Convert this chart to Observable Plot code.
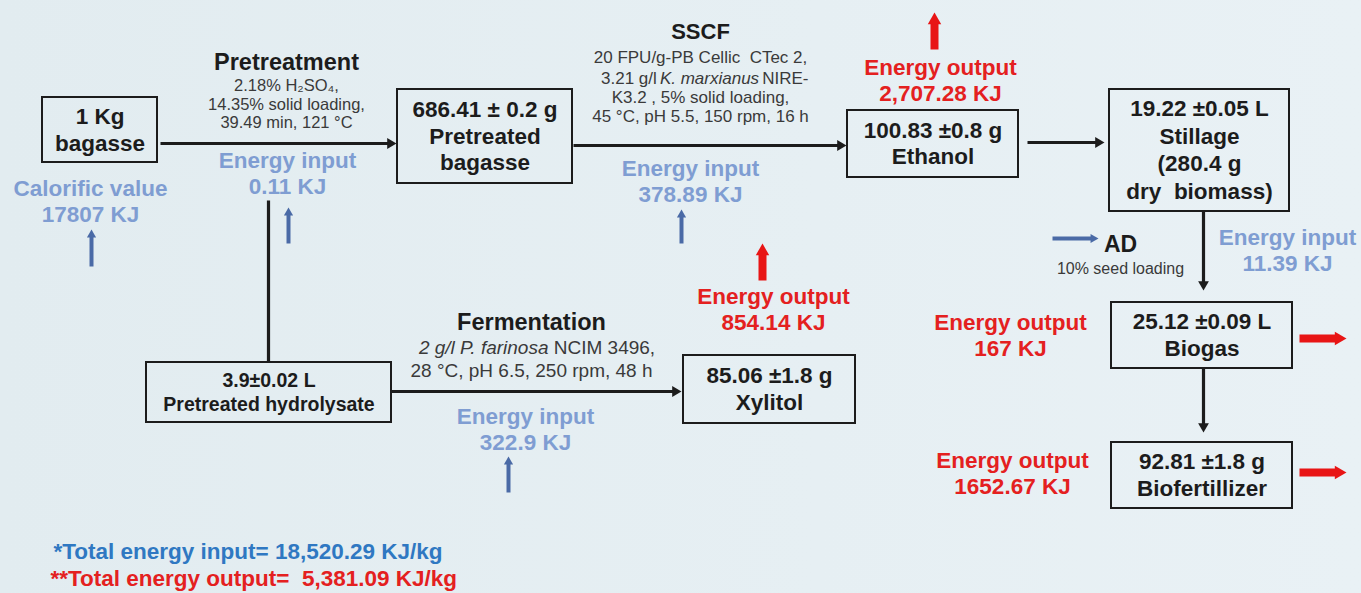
<!DOCTYPE html>
<html>
<head>
<meta charset="utf-8">
<script src="https://cdn.jsdelivr.net/npm/d3@7"></script>
<script src="https://cdn.jsdelivr.net/npm/@observablehq/plot@0.6"></script>
<style>
  html, body { margin: 0; padding: 0; background: #e4eef2; }
  #chart svg { display: block; }
</style>
</head>
<body>
<div id="chart"></div>
<script>
// ---------- DATA ----------
const boxIds = ["bagasse", "pretreated", "ethanol", "stillage", "hydrolysate", "xylitol", "biogas", "biofertilizer"];
const boxLines = [
  ["1 Kg", "bagasse"],
  ["686.41 ± 0.2 g", "Pretreated", "bagasse"],
  ["100.83 ±0.8 g", "Ethanol"],
  ["19.22 ±0.05 L", "Stillage", "(280.4 g", "dry  biomass)"],
  ["3.9±0.02 L", "Pretreated hydrolysate"],
  ["85.06 ±1.8 g", "Xylitol"],
  ["25.12 ±0.09 L", "Biogas"],
  ["92.81 ±1.8 g", "Biofertillizer"]
];
const processNames = ["Pretreatment", "SSCF", "Fermentation", "AD"];
const processConditions = [
  ["2.18% H₂SO₄,", "14.35% solid loading,", "39.49 min, 121 °C"],
  ["20 FPU/g-PB Cellic  CTec 2,", ["3.21 g/l ", "K. marxianus", " NIRE-"], "K3.2 , 5% solid loading,", "45 °C, pH 5.5, 150 rpm, 16 h"],
  [["2 g/l P. farinosa", " NCIM 3496,"], "28 °C, pH 6.5, 250 rpm, 48 h"],
  ["10% seed loading"]
];
const inputLabels = ["Calorific value", "Energy input", "Energy input", "Energy input", "Energy input"];
const inputValues = ["17807 KJ", "0.11 KJ", "378.89 KJ", "322.9 KJ", "11.39 KJ"];
const outputLabels = ["Energy output", "Energy output", "Energy output", "Energy output"];
const outputValues = ["2,707.28 KJ", "854.14 KJ", "167 KJ", "1652.67 KJ"];
const totalMarks = ["*", "**"];
const totalLabels = ["Total energy input= ", "Total energy output=  "];
const totalValues = ["18,520.29 KJ/kg", "5,381.09 KJ/kg"];

// ---------- LAYOUT ----------
const W = 1361, H = 593;
const boxLayout = {
  bagasse:       {x1: 42,   x2: 157,  y1: 97,  y2: 162, fs: 22.5, lh: 27},
  pretreated:    {x1: 397,  x2: 572,  y1: 89,  y2: 183, fs: 22.5, lh: 26.5},
  ethanol:       {x1: 847,  x2: 1018, y1: 110, y2: 177, fs: 22.5, lh: 26},
  stillage:      {x1: 1109, x2: 1289, y1: 89,  y2: 211, fs: 22.5, lh: 27.5},
  hydrolysate:   {x1: 146,  x2: 391,  y1: 362, y2: 422, fs: 19.5, lh: 24},
  xylitol:       {x1: 683,  x2: 855,  y1: 355, y2: 423, fs: 22.5, lh: 27},
  biogas:        {x1: 1111, x2: 1292, y1: 302, y2: 368, fs: 22.5, lh: 27},
  biofertilizer: {x1: 1111, x2: 1292, y1: 442, y2: 508, fs: 22.5, lh: 27}
};
const processLayout = [
  {x: 286,  y: 62,  fs: 23.5, cfs: 16.5, cy: [85, 104, 122], splits: [null, null, null]},
  {x: 700,  y: 31,  fs: 22,   cfs: 17,   cy: [57, 78, 97, 116], splits: [null, 709, null, null]},
  {x: 531,  y: 322, fs: 23.5, cfs: 19,   cy: [347, 370], splits: [548, null]},
  {x: 1120, y: 244, fs: 23,   cfs: 16,   cy: [268], splits: [null]}
];
const inputLayout = [
  {x: 90,   y: 188}, {x: 287, y: 160}, {x: 690, y: 168}, {x: 525, y: 416}, {x: 1287, y: 237}
];
const outputLayout = [
  {x: 940, y: 67}, {x: 773, y: 296}, {x: 1010, y: 322}, {x: 1012, y: 460}
];
const totalLayout = [{x: 53, y: 551}, {x: 50, y: 578}];

const flowArrows = [
  {x1: 160, y1: 143, x2: 396, y2: 143, head: true},
  {x1: 573, y1: 145, x2: 846, y2: 145, head: true},
  {x1: 1027, y1: 142, x2: 1104, y2: 142, head: true},
  {x1: 268, y1: 200, x2: 268, y2: 362, head: false},
  {x1: 391, y1: 391, x2: 681, y2: 391, head: true},
  {x1: 1203, y1: 211, x2: 1203, y2: 290, head: true},
  {x1: 1203, y1: 368, x2: 1203, y2: 432, head: true}
];
const blueArrows = [
  {x1: 91, y1: 266, x2: 91, y2: 229},
  {x1: 288, y1: 243, x2: 288, y2: 207},
  {x1: 681, y1: 243, x2: 681, y2: 209},
  {x1: 508, y1: 492, x2: 508, y2: 456},
  {x1: 1052, y1: 238, x2: 1098, y2: 238}
];
const redArrows = [
  {x1: 934, y1: 49, x2: 934, y2: 12},
  {x1: 762, y1: 280, x2: 762, y2: 243},
  {x1: 1299, y1: 338, x2: 1346, y2: 338},
  {x1: 1299, y1: 472, x2: 1346, y2: 472}
];

const INK = "#1c1c1c", BLUE = "#7f9dd2", RED = "#e42020", GREY = "#3a3a3a";
const FOOT_BLUE = "#2f78c2";

// ---------- BUILD TABLES ----------
const boxes = boxIds.map((id) => ({id, ...boxLayout[id]}));
const boxText = boxIds.flatMap((id, i) => {
  const b = boxLayout[id];
  const n = boxLines[i].length;
  const cy = (b.y1 + b.y2) / 2;
  return boxLines[i].map((t, j) => ({x: (b.x1 + b.x2) / 2, y: cy + (j - (n - 1) / 2) * b.lh, text: t, fs: b.fs}));
});

const procTitles = processNames.map((t, i) => ({x: processLayout[i].x, y: processLayout[i].y, text: t, fs: processLayout[i].fs}));
const condPlain = [], condItalicMid = [], condItalicEnd = [], condLeft = [], condRight = [];
processConditions.forEach((lines, i) => {
  const L = processLayout[i];
  lines.forEach((line, j) => {
    const y = L.cy[j];
    if (typeof line === "string") condPlain.push({x: L.x, y, text: line, fs: L.cfs});
    else if (line.length === 3) {
      const s = L.splits[j], half = 48;
      condItalicMid.push({x: s, y, text: line[1], fs: L.cfs});
      condLeft.push({x: s - half, y, text: line[0], fs: L.cfs});
      condRight.push({x: s + half, y, text: line[2], fs: L.cfs});
    } else {
      const s = L.splits[j];
      condItalicEnd.push({x: s, y, text: line[0], fs: L.cfs});
      condRight.push({x: s, y, text: line[1], fs: L.cfs});
    }
  });
});

const inputText = inputLabels.flatMap((t, i) => [
  {x: inputLayout[i].x, y: inputLayout[i].y, text: t},
  {x: inputLayout[i].x, y: inputLayout[i].y + 26, text: inputValues[i]}
]);
const outputText = outputLabels.flatMap((t, i) => [
  {x: outputLayout[i].x, y: outputLayout[i].y, text: t},
  {x: outputLayout[i].x, y: outputLayout[i].y + 26, text: outputValues[i]}
]);
const totalText = totalLabels.map((t, i) => ({x: totalLayout[i].x, y: totalLayout[i].y, text: totalMarks[i] + t + totalValues[i], fill: i === 0 ? FOOT_BLUE : RED}));

function heads(arr, r) {
  return arr.filter(a => a.head !== false).map(a => {
    const dx = a.x2 - a.x1, dy = a.y2 - a.y1, len = Math.hypot(dx, dy);
    const ux = dx / len, uy = dy / len, off = 1.555 * r;
    return {x: a.x2 - ux * off, y: a.y2 - uy * off, rotate: Math.atan2(dx, -dy) * 180 / Math.PI};
  });
}
function shafts(arr, r) {
  return arr.map(a => {
    if (a.head === false) return a;
    const dx = a.x2 - a.x1, dy = a.y2 - a.y1, len = Math.hypot(dx, dy);
    const off = 1.8 * r;
    return {x1: a.x1, y1: a.y1, x2: a.x2 - dx / len * off, y2: a.y2 - dy / len * off};
  });
}

const FONT = "Liberation Sans, Arial, Helvetica, sans-serif";

const chart = Plot.plot({
  width: W,
  height: H,
  margin: 0,
  x: {domain: [0, W], axis: null},
  y: {domain: [0, H], reverse: true, axis: null},
  style: {background: "linear-gradient(90deg, #e2ecf0 0%, #e6eff3 60%, #e9f1f5 100%)", fontFamily: FONT, overflow: "visible"},
  marks: [
    // boxes
    Plot.rect(boxes, {x1: "x1", x2: "x2", y1: "y1", y2: "y2", fill: "none", stroke: INK, strokeWidth: 2}),
    // flow arrows
    Plot.link(shafts(flowArrows, 4), {x1: "x1", y1: "y1", x2: "x2", y2: "y2", stroke: INK, strokeWidth: 3.2}),
    Plot.dot(heads(flowArrows, 4), {x: "x", y: "y", symbol: "triangle", r: 4, fill: INK, stroke: "none", rotate: "rotate"}),
    // blue energy input arrows
    Plot.link(shafts(blueArrows, 3.4), {x1: "x1", y1: "y1", x2: "x2", y2: "y2", stroke: "#4a6aa6", strokeWidth: 4}),
    Plot.dot(heads(blueArrows, 3.4), {x: "x", y: "y", symbol: "triangle", r: 3.4, fill: "#4a6aa6", stroke: "none", rotate: "rotate"}),
    // red energy output arrows
    Plot.link(shafts(redArrows, 5), {x1: "x1", y1: "y1", x2: "x2", y2: "y2", stroke: "#e81515", strokeWidth: 8}),
    Plot.dot(heads(redArrows, 5), {x: "x", y: "y", symbol: "triangle", r: 5, fill: "#e81515", stroke: "none", rotate: "rotate"}),
    // box text
    Plot.text(boxText, {x: "x", y: "y", text: "text", fontSize: d => d.fs, fontWeight: "bold", fill: INK}),
    // process titles
    Plot.text(procTitles, {x: "x", y: "y", text: "text", fontSize: d => d.fs, fontWeight: "bold", fill: INK}),
    // conditions
    Plot.text(condPlain, {x: "x", y: "y", text: "text", fontSize: d => d.fs, fill: GREY}),
    Plot.text(condLeft, {x: "x", y: "y", text: "text", fontSize: d => d.fs, fill: GREY, textAnchor: "end"}),
    Plot.text(condRight, {x: "x", y: "y", text: "text", fontSize: d => d.fs, fill: GREY, textAnchor: "start"}),
    Plot.text(condItalicMid, {x: "x", y: "y", text: "text", fontSize: d => d.fs, fill: GREY, fontStyle: "italic"}),
    Plot.text(condItalicEnd, {x: "x", y: "y", text: "text", fontSize: d => d.fs, fill: GREY, fontStyle: "italic", textAnchor: "end"}),
    // energy input / output labels
    Plot.text(inputText, {x: "x", y: "y", text: "text", fontSize: 22.5, fontWeight: "bold", fill: BLUE}),
    Plot.text(outputText, {x: "x", y: "y", text: "text", fontSize: 22.5, fontWeight: "bold", fill: RED}),
    // totals
    Plot.text(totalText, {x: "x", y: "y", text: "text", fontSize: 22.5, fontWeight: "bold", fill: "fill", textAnchor: "start"})
  ]
});
document.getElementById("chart").appendChild(chart);
</script>
</body>
</html>
